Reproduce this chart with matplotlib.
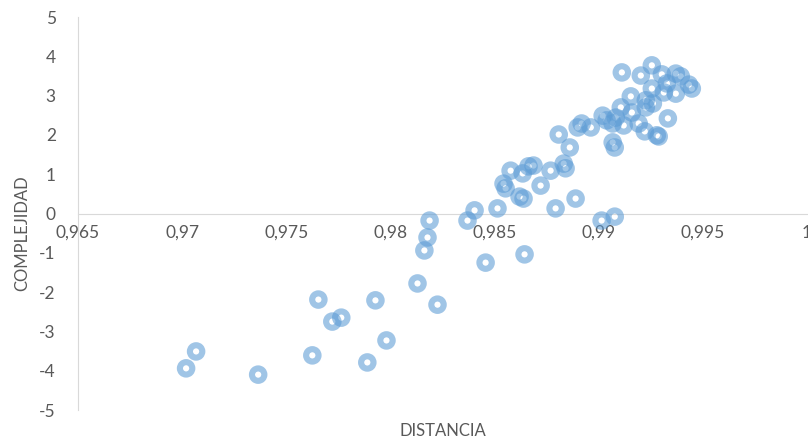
import numpy as np
import matplotlib
matplotlib.use("Agg")
import matplotlib.pyplot as plt
from matplotlib.ticker import FuncFormatter, MultipleLocator

plt.rcParams['font.family'] = ['Lato', 'DejaVu Sans']

# datos
distancia = [0.97019, 0.97067, 0.97365, 0.97625, 0.97654, 0.97721, 0.97764, 0.97889,
             0.97928, 0.97981, 0.98130, 0.98226, 0.98163, 0.98178, 0.98188, 0.98370,
             0.98404, 0.98457, 0.98514, 0.98543, 0.98553, 0.98577, 0.98620, 0.98639,
             0.98644, 0.98635, 0.98663, 0.98687, 0.98721, 0.98769, 0.98793, 0.98808,
             0.98832, 0.98841, 0.98861, 0.98889, 0.98899, 0.98918, 0.98962, 0.99014,
             0.99077, 0.99019, 0.99038, 0.99067, 0.99067, 0.99077, 0.99082, 0.99106,
             0.99111, 0.99120, 0.99154, 0.99159, 0.99192, 0.99202, 0.99221, 0.99226,
             0.99226, 0.99255, 0.99255, 0.99260, 0.99279, 0.99288, 0.99303, 0.99313,
             0.99332, 0.99327, 0.99370, 0.99370, 0.99394, 0.99433, 0.99447]
complejidad = [-3.94, -3.51, -4.10, -3.61, -2.19, -2.75, -2.65, -3.79,
               -2.21, -3.23, -1.78, -2.32, -0.94, -0.61, -0.18, -0.18,
               0.08, -1.25, 0.13, 0.76, 0.64, 1.09, 0.43, 0.38,
               -1.04, 1.02, 1.20, 1.22, 0.71, 1.09, 0.13, 2.01,
               1.27, 1.15, 1.68, 0.38, 2.19, 2.29, 2.19, -0.18,
               -0.08, 2.49, 2.37, 2.29, 1.81, 1.68, 2.44, 2.70,
               3.59, 2.24, 2.98, 2.57, 2.29, 3.51, 2.09, 2.88,
               2.70, 3.77, 3.18, 2.80, 1.99, 1.96, 3.54, 3.08,
               2.42, 3.31, 3.05, 3.56, 3.49, 3.28, 3.18]

fig = plt.figure(figsize=(8.08, 4.42), dpi=100)
ax = fig.add_axes([78 / 808, 1 - 410 / 442, 729 / 808, 393 / 442])

ax.scatter(distancia, complejidad, s=80, facecolors='none',
           edgecolors='#5B9BD5', linewidths=4.4, alpha=0.58, zorder=3)

ax.set_xlim(0.965, 1.0)
ax.set_ylim(-5, 5)
ax.xaxis.set_major_locator(MultipleLocator(0.005))
ax.yaxis.set_major_locator(MultipleLocator(1))
ax.xaxis.set_major_formatter(FuncFormatter(lambda v, p: ('%g' % round(v, 4)).replace('.', ',')))
ax.yaxis.set_major_formatter(FuncFormatter(lambda v, p: '%d' % v))

for s in ['top', 'right']:
    ax.spines[s].set_visible(False)
ax.spines['bottom'].set_position(('data', 0))
ax.spines['bottom'].set_color('#D9D9D9')
ax.spines['left'].set_color('#D9D9D9')
ax.tick_params(axis='both', length=0, labelsize=12.5, labelcolor='#595959')
ax.tick_params(axis='y', pad=16)
ax.tick_params(axis='x', pad=8)

ax.set_xlabel('DISTANCIA', fontsize=12, color='#595959')
ax.set_ylabel('COMPLEJIDAD', fontsize=12, color='#595959')
ax.xaxis.set_label_coords(0.5, -0.033)
ax.yaxis.set_label_coords(-0.066, 0.45)

fig.savefig('out.png', dpi=100)
